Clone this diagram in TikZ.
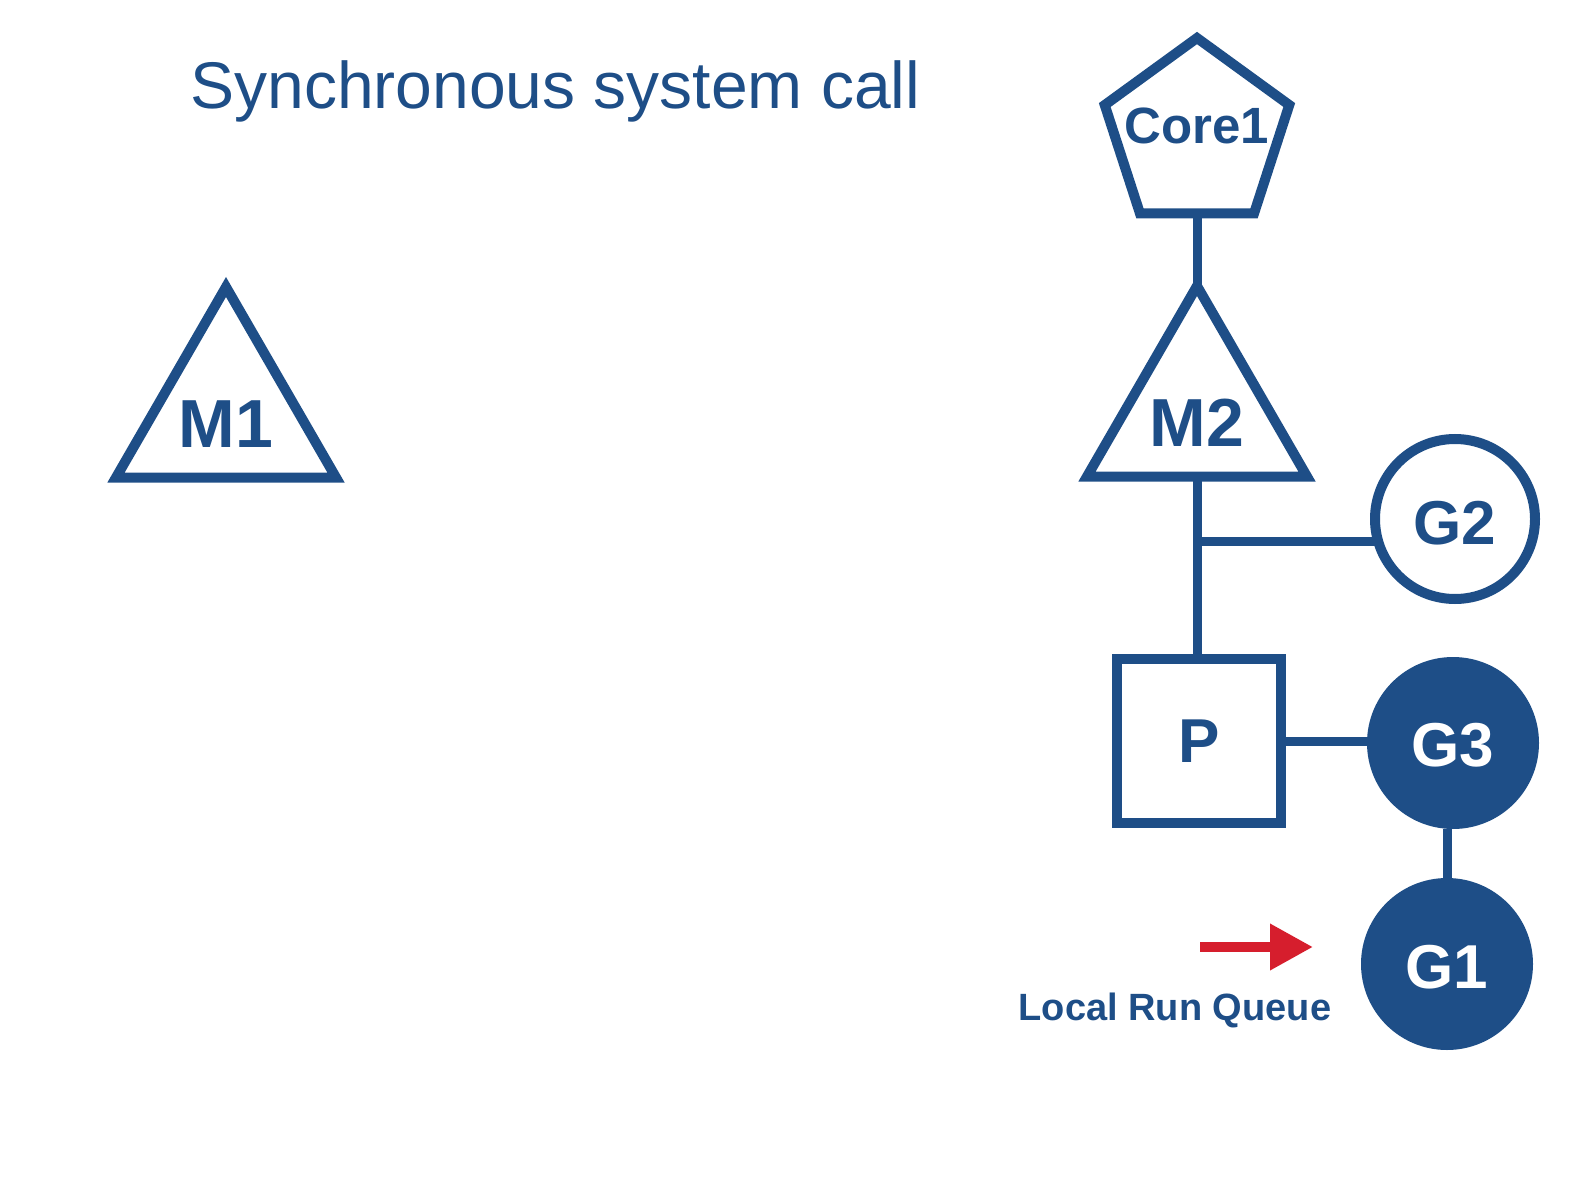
\documentclass[tikz,border=0pt]{standalone}
\usepackage{fontspec}
\setmainfont{Liberation Sans}
\usetikzlibrary{shapes.geometric,arrows.meta}
\definecolor{mblue}{RGB}{30,78,135}
\definecolor{mred}{RGB}{214,30,45}
\begin{document}
\begin{tikzpicture}[x=0.5pt,y=-0.5pt,
  shp/.style={draw=mblue, line width=5pt, inner sep=0pt, outer sep=0pt},
  tri/.style={shp, regular polygon, regular polygon sides=3, minimum size=127pt},
  pent/.style={shp, regular polygon, regular polygon sides=5, minimum size=97pt},
  box/.style={shp, rectangle, minimum size=82pt},
  gcirc/.style={shp, circle, minimum size=80pt},
  gfill/.style={circle, fill=mblue, inner sep=0pt, outer sep=0pt, minimum size=86pt},
  lbl/.style={text=mblue, font=\bfseries\fontsize{31}{36}\selectfont, inner sep=0pt},
  lblw/.style={text=white, font=\bfseries\fontsize{31}{36}\selectfont, inner sep=0pt},
  conn/.style={draw=mblue, line width=4.5pt}
]
\useasboundingbox (0,0) rectangle (1596,1198);

\node[anchor=base west, inner sep=0pt, text=mblue, font=\fontsize{33}{40}\selectfont] (title) at (190,109) {Synchronous system call};

\node[tri, label={[lbl, font=\bfseries\fontsize{34}{38}\selectfont, yshift=-5pt]center:M1}] (m1) at (226,414) {};

\node[pent, label={[lbl, font=\bfseries\fontsize{25.5}{30}\selectfont, yshift=4.5pt]center:Core1}] (core1) at (1197,135) {};
\node[tri, label={[lbl, font=\bfseries\fontsize{34}{38}\selectfont, yshift=-5pt]center:M2}] (m2) at (1197,413) {};
\node[gcirc, label={[lbl, yshift=-2pt]center:G2}] (g2) at (1455,519) {};
\node[box, label={[lbl]center:P}] (p) at (1199,741) {};
\node[gfill, label={[lblw, yshift=-1pt]center:G3}] (g3) at (1453,743) {};
\node[gfill, label={[lblw, yshift=-1.5pt]center:G1}] (g1) at (1447,964) {};

\draw[conn] (core1.south) -- (m2.north);
\draw[conn] (m2.south) -- (m2.south |- p.north);
\coordinate (br) at (m2.south |- g2.196);
\draw[conn] (br) -- (g2.196);
\draw[conn] (p.east) -- (p.east -| g3.west);
\draw[conn] (g1.north) -- (g1.north |- g3.south);

\coordinate (aS) at (1200,947);
\coordinate (aE) at (1313,947);
\draw[mred, line width=5pt, -{Triangle[length=21.5pt,width=22pt]}] (aS) -- (aE);

\node[anchor=base, inner sep=0pt, text=mblue, font=\bfseries\fontsize{19}{22}\selectfont] (lrq) at (1175,1020) {Local Run Queue};
\end{tikzpicture}
\end{document}
